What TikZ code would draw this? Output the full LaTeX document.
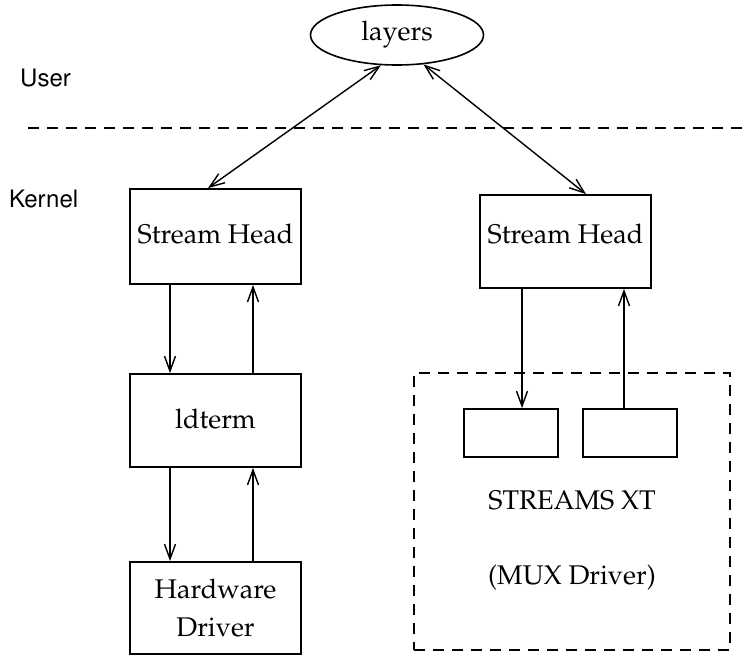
\documentclass[tikz,border=0pt]{standalone}
\usepackage[T1]{fontenc}
\usepackage{mathpazo}
\usepackage{helvet}
\usetikzlibrary{arrows.meta,shapes.geometric}

\begin{document}
\begin{tikzpicture}[x=1pt,y=-1pt,
  box/.style={draw,line width=1.8pt,minimum width=171pt,inner sep=0pt,
    font=\fontsize{27}{38}\selectfont,align=center},
  small/.style={draw,line width=1.8pt,minimum width=94pt,minimum height=48pt,inner sep=0pt},
  side/.style={font=\sffamily\fontsize{24}{28}\selectfont,anchor=base west,inner sep=0pt},
  txt/.style={font=\fontsize{27}{38}\selectfont},
  sep/.style={line width=1.8pt,dash pattern=on 11pt off 8pt}]
 \useasboundingbox (0,0) rectangle (747,658);
 \node[side] (user) at (20,87) {User};
 \node[side] (kern) at (9,207) {Kernel};
 \draw[sep] (28,128) -- (747,128);
 \node[ellipse,draw,line width=1.6pt,minimum width=173pt,minimum height=60pt,inner sep=0pt,txt] (lay) at (397,35) {layers};
 % left stack
 \node[box,minimum height=95pt,text depth=6pt] (lsh) at (215.5,236.5) {Stream Head};
 \node[box,minimum height=93pt,text depth=3pt] (ldt) at (215.5,420.5) {ldterm};
 \node[box,minimum height=92pt] (hwd) at (215.5,608) {Hardware\\Driver};
 % right stack
 \node[box,minimum height=93pt,text depth=16pt] (rsh) at (565.5,241.5) {Stream Head};
 \node[draw,sep,minimum width=316pt,minimum height=277pt,inner sep=0pt] (mux) at (572,511.5) {};
 \node[small] (qa) at (511,433) {};
 \node[small] (qb) at (630,433) {};
 \node[txt] (muxa) at (572,500) {STREAMS XT};
 \node[txt] (muxb) at (572,578) {(MUX Driver)};
 \coordinate (xl1) at (170,0); \coordinate (xl2) at (253,0);
 \coordinate (xr1) at (522,0); \coordinate (xr2) at (624,0);
 \coordinate (xd1) at (208,0); \coordinate (xd2) at (586,0);
 \begin{scope}[>={Straight Barb[length=15pt,width=11pt,line width=1.4pt]},
   every path/.style={line width=1.4pt,->}]
 \draw (lsh.south -| xl1) -- (ldt.north -| xl1);
 \draw (ldt.north -| xl2) -- (lsh.south -| xl2);
 \draw (ldt.south -| xl1) -- (hwd.north -| xl1);
 \draw (hwd.north -| xl2) -- (ldt.south -| xl2);
 \draw (rsh.south -| xr1) -- (qa.north -| xr1);
 \draw (qb.north -| xr2) -- (rsh.south -| xr2);
 \draw[<->] (lay.-118) -- (lsh.north -| xd1);
 \draw[<->] (lay.-48) -- (rsh.north -| xd2);
 \end{scope}
\end{tikzpicture}
\end{document}
